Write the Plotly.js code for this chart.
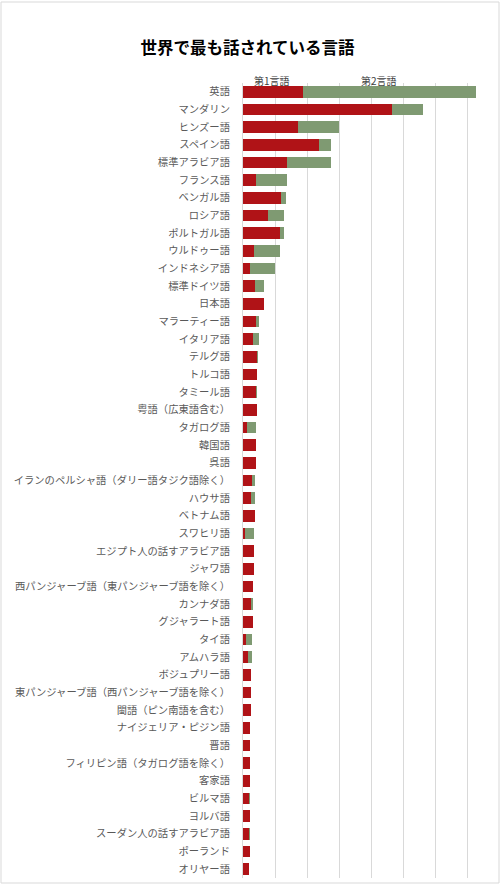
<!DOCTYPE html>
<html>
<head>
<meta charset="utf-8">
<script src="https://cdn.plot.ly/plotly-3.0.1.min.js"></script>
<style>
  html, body { margin: 0; padding: 0; background: #ffffff; }
  #chart { width: 500px; height: 887px; }
</style>
</head>
<body>
<div id="chart"></div>
<script>
// Languages (top to bottom)
const languages = [
  "英語", "マンダリン", "ヒンズー語", "スペイン語", "標準アラビア語",
  "フランス語", "ベンガル語", "ロシア語", "ポルトガル語", "ウルドゥー語",
  "インドネシア語", "標準ドイツ語", "日本語", "マラーティー語", "イタリア語",
  "テルグ語", "トルコ語", "タミール語", "粤語（広東語含む）", "タガログ語",
  "韓国語", "呉語", "イランのペルシャ語（ダリー語タジク語除く）", "ハウサ語", "ベトナム語",
  "スワヒリ語", "エジプト人の話すアラビア語", "ジャワ語", "西パンジャーブ語（東パンジャーブ語を除く）", "カンナダ語",
  "グジャラート語", "タイ語", "アムハラ語", "ボジュプリー語", "東パンジャーブ語（西パンジャーブ語を除く）",
  "閩語（ピン南語を含む）", "ナイジェリア・ピジン語", "晋語", "フィリピン語（タガログ語を除く）", "客家語",
  "ビルマ語", "ヨルバ語", "スーダン人の話すアラビア語", "ポーランド", "オリヤー語"
];

// First-language speakers (millions, estimated)
const firstLanguage = [
  373, 931, 344, 475, 277,
  81, 235, 156, 231, 69,
  42, 77, 129, 83, 65,
  87, 85, 79, 85, 27,
  81, 81, 58, 52, 76,
  12, 67, 67, 62, 52,
  62, 17, 33, 50, 50,
  52, 46, 46, 46, 46,
  38, 42, 38, 42, 40
];

// Second-language speakers (millions, estimated)
const secondLanguage = [
  1083, 196, 258, 75, 273,
  194, 34, 100, 25, 160,
  158, 56, 0, 17, 35,
  9, 0, 6, 0, 54,
  0, 0, 17, 25, 1,
  59, 0, 0, 0, 10,
  0, 41, 25, 0, 0,
  0, 0, 0, 0, 0,
  4, 0, 4, 0, 0
];

const seriesNames = ["第1言語", "第2言語"];
const chartTitle = "世界で最も話されている言語";

const FONT = "'Noto Sans CJK JP', 'Noto Sans', sans-serif";

const traces = [
  {
    type: "bar",
    orientation: "h",
    name: seriesNames[0],
    y: languages,
    x: firstLanguage,
    marker: { color: "#B01317" },
    hoverinfo: "x+y+name"
  },
  {
    type: "bar",
    orientation: "h",
    name: seriesNames[1],
    y: languages,
    x: secondLanguage,
    marker: { color: "#7F9A72" },
    hoverinfo: "x+y+name"
  }
];

const layout = {
  width: 500,
  height: 887,
  barmode: "stack",
  bargap: 0.34,
  showlegend: false,
  paper_bgcolor: "#ffffff",
  plot_bgcolor: "#ffffff",
  margin: { l: 243, r: 1, t: 83, b: 9, pad: 0 },
  font: { family: FONT, color: "#595959", size: 10 },
  title: {
    text: "<b>" + chartTitle + "</b>",
    font: { family: FONT, size: 16.5, color: "#000000" },
    x: 0.495,
    xanchor: "center",
    y: 0.946,
    yanchor: "middle",
    xref: "container",
    yref: "container"
  },
  xaxis: {
    range: [0, 1600],
    dtick: 200,
    showgrid: true,
    gridcolor: "#d9d9d9",
    gridwidth: 1,
    zeroline: false,
    showticklabels: false,
    ticks: "",
    showline: false,
    fixedrange: true
  },
  yaxis: {
    type: "category",
    autorange: "reversed",
    showgrid: false,
    zeroline: false,
    showline: true,
    linecolor: "#d9d9d9",
    linewidth: 1,
    ticks: "",
    ticklabelstandoff: 10,
    tickfont: { family: FONT, size: 10.3, color: "#595959" },
    fixedrange: true
  },
  annotations: [
    {
      text: seriesNames[0],
      xref: "paper", yref: "paper",
      x: (272 - 243) / 256, y: 1 + (83 - 80) / 795,
      xanchor: "center", yanchor: "middle",
      showarrow: false,
      font: { family: FONT, size: 10, color: "#404040" }
    },
    {
      text: seriesNames[1],
      xref: "paper", yref: "paper",
      x: (379 - 243) / 256, y: 1 + (83 - 80) / 795,
      xanchor: "center", yanchor: "middle",
      showarrow: false,
      font: { family: FONT, size: 10, color: "#404040" }
    }
  ],
  shapes: [
    {
      type: "rect",
      xref: "paper", yref: "paper",
      x0: (1 - 243) / 256, x1: (499 - 243) / 256,
      y0: -(883 - 878) / 795, y1: 1 + (83 - 2) / 795,
      line: { color: "#d9d9d9", width: 1 },
      fillcolor: "rgba(0,0,0,0)",
      layer: "below"
    }
  ]
};

Plotly.newPlot("chart", traces, layout, { displayModeBar: false, staticPlot: true });
</script>
</body>
</html>
